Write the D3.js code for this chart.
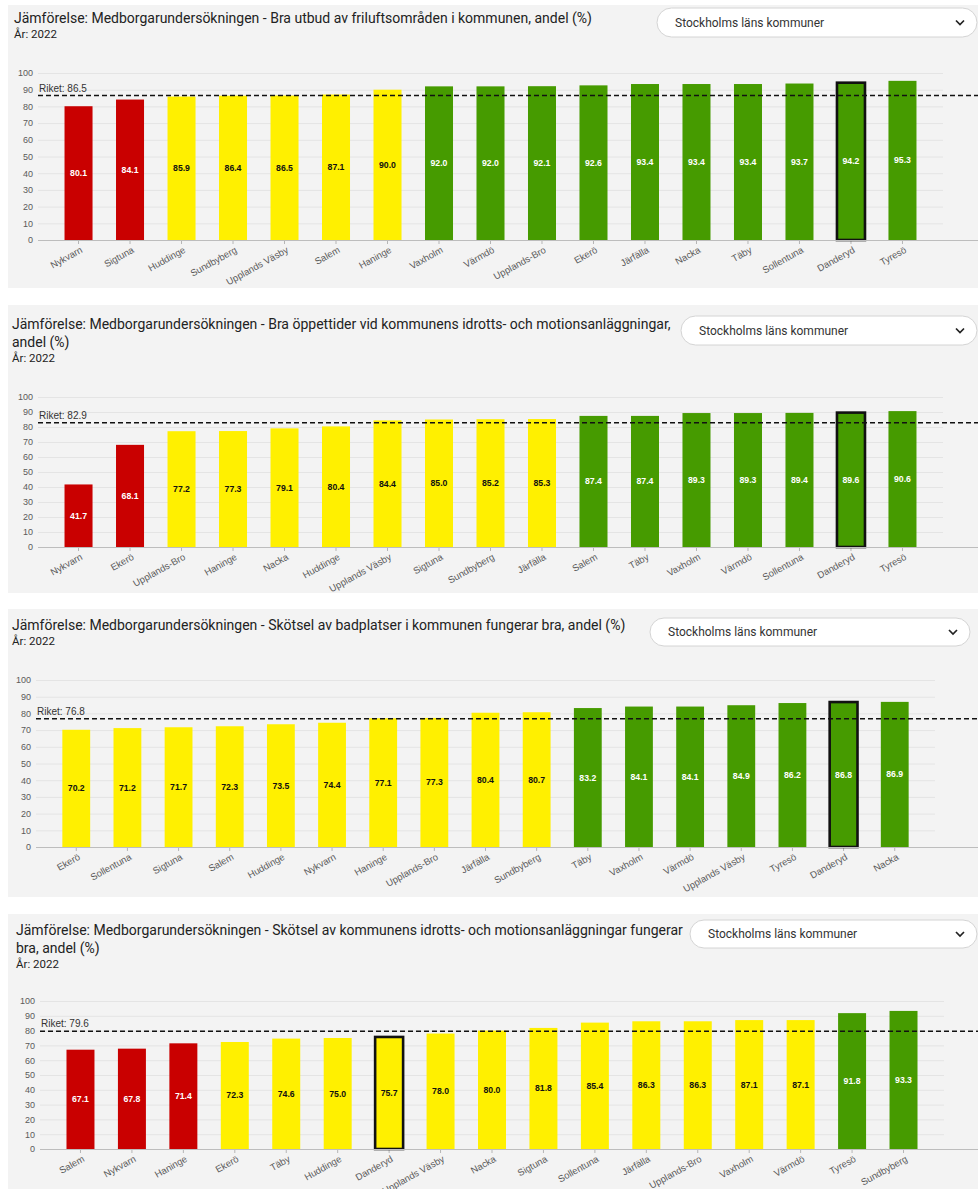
<!DOCTYPE html>
<html>
<head>
<meta charset="utf-8">
<script src="https://cdn.jsdelivr.net/npm/d3@7"></script>
<style>
  body { margin: 0; background: #ffffff; }
  svg { display: block; }
  .title { font-family: Roboto, "Noto Sans", sans-serif; fill: #222; }
  .axis text { font-family: "Liberation Sans", Arial, sans-serif; fill: #5a5a5a; }
</style>
</head>
<body>
<div id="chart"></div>
<script>
// Values (Stockholms läns kommuner, 2022)

// Chart 1 - friluftsområden
const names1 = ["Nykvarn", "Sigtuna", "Huddinge", "Sundbyberg", "Upplands Väsby", "Salem", "Haninge", "Vaxholm", "Värmdö", "Upplands-Bro", "Ekerö", "Järfälla", "Nacka", "Täby", "Sollentuna", "Danderyd", "Tyresö"];
const values1 = [80.1, 84.1, 85.9, 86.4, 86.5, 87.1, 90.0, 92.0, 92.0, 92.1, 92.6, 93.4, 93.4, 93.4, 93.7, 94.2, 95.3];
const status1 = ["r", "r", "y", "y", "y", "y", "y", "g", "g", "g", "g", "g", "g", "g", "g", "g", "g"];
const riket1 = 86.5;
const title1 = ["Jämförelse: Medborgarundersökningen - Bra utbud av friluftsområden i kommunen, andel (%)"];

// Chart 2 - öppettider idrottsanläggningar
const names2 = ["Nykvarn", "Ekerö", "Upplands-Bro", "Haninge", "Nacka", "Huddinge", "Upplands Väsby", "Sigtuna", "Sundbyberg", "Järfälla", "Salem", "Täby", "Vaxholm", "Värmdö", "Sollentuna", "Danderyd", "Tyresö"];
const values2 = [41.7, 68.1, 77.2, 77.3, 79.1, 80.4, 84.4, 85.0, 85.2, 85.3, 87.4, 87.4, 89.3, 89.3, 89.4, 89.6, 90.6];
const status2 = ["r", "r", "y", "y", "y", "y", "y", "y", "y", "y", "g", "g", "g", "g", "g", "g", "g"];
const riket2 = 82.9;
const title2 = ["Jämförelse: Medborgarundersökningen - Bra öppettider vid kommunens idrotts- och motionsanläggningar,", "andel (%)"];

// Chart 3 - badplatser
const names3 = ["Ekerö", "Sollentuna", "Sigtuna", "Salem", "Huddinge", "Nykvarn", "Haninge", "Upplands-Bro", "Järfälla", "Sundbyberg", "Täby", "Vaxholm", "Värmdö", "Upplands Väsby", "Tyresö", "Danderyd", "Nacka"];
const values3 = [70.2, 71.2, 71.7, 72.3, 73.5, 74.4, 77.1, 77.3, 80.4, 80.7, 83.2, 84.1, 84.1, 84.9, 86.2, 86.8, 86.9];
const status3 = ["y", "y", "y", "y", "y", "y", "y", "y", "y", "y", "g", "g", "g", "g", "g", "g", "g"];
const riket3 = 76.8;
const title3 = ["Jämförelse: Medborgarundersökningen - Skötsel av badplatser i kommunen fungerar bra, andel (%)"];

// Chart 4 - skötsel idrottsanläggningar
const names4 = ["Salem", "Nykvarn", "Haninge", "Ekerö", "Täby", "Huddinge", "Danderyd", "Upplands Väsby", "Nacka", "Sigtuna", "Sollentuna", "Järfälla", "Upplands-Bro", "Vaxholm", "Värmdö", "Tyresö", "Sundbyberg"];
const values4 = [67.1, 67.8, 71.4, 72.3, 74.6, 75.0, 75.7, 78.0, 80.0, 81.8, 85.4, 86.3, 86.3, 87.1, 87.1, 91.8, 93.3];
const status4 = ["r", "r", "r", "y", "y", "y", "y", "y", "y", "y", "y", "y", "y", "y", "y", "g", "g"];
const riket4 = 79.6;
const title4 = ["Jämförelse: Medborgarundersökningen - Skötsel av kommunens idrotts- och motionsanläggningar fungerar", "bra, andel (%)"];

const yearLabel = "År: 2022";
const dropdownLabel = "Stockholms läns kommuner";
const highlighted = "Danderyd";
const yTicks = [0, 10, 20, 30, 40, 50, 60, 70, 80, 90, 100];

// Colours for the status of each municipality
const statusColor = { r: "#c90000", y: "#fff000", g: "#469b00" };
const labelColor = { r: "#ffffff", y: "#111111", g: "#ffffff" };

// Page layout of each panel
const panels = [
  { names: names1, values: values1, status: status1, riket: riket1, title: title1,
    top: 5, bottom: 288, titleX: 14, titleY: 23, y0: 240, y100: 73, x0: 38, gridEnd: 943,
    dd: { x: 657, y: 8, r: 977, h: 29 } },
  { names: names2, values: values2, status: status2, riket: riket2, title: title2,
    top: 305, bottom: 593, titleX: 12, titleY: 329, y0: 547, y100: 397, x0: 38, gridEnd: 943,
    dd: { x: 681, y: 316, r: 977, h: 29 } },
  { names: names3, values: values3, status: status3, riket: riket3, title: title3,
    top: 609, bottom: 897, titleX: 12, titleY: 630, y0: 847, y100: 680, x0: 36, gridEnd: 935,
    dd: { x: 650, y: 618, r: 970, h: 28 } },
  { names: names4, values: values4, status: status4, riket: riket4, title: title4,
    top: 914, bottom: 1189, titleX: 16, titleY: 935, y0: 1149, y100: 1001, x0: 40, gridEnd: 944,
    dd: { x: 690, y: 920, r: 977, h: 28 } }
];

const svg = d3.select("#chart")
  .append("svg")
  .attr("width", 978)
  .attr("height", 1189);

panels.forEach(drawPanel);

function drawPanel(p) {
  const g = svg.append("g");

  // Panel background
  g.append("rect")
    .attr("x", 8)
    .attr("y", p.top)
    .attr("width", 978 - 8)
    .attr("height", p.bottom - p.top)
    .attr("fill", "#f3f3f3");

  // Title and year
  p.title.forEach((line, i) => {
    g.append("text")
      .attr("class", "title")
      .attr("x", p.titleX)
      .attr("y", p.titleY + i * 18)
      .style("font-size", "14px")
      .text(line);
  });

  g.append("text")
    .attr("class", "title")
    .attr("x", p.titleX)
    .attr("y", p.titleY + (p.title.length - 1) * 18 + 15)
    .style("font-size", "11.5px")
    .text(yearLabel);

  // Dropdown box
  g.append("rect")
    .attr("x", p.dd.x)
    .attr("y", p.dd.y)
    .attr("width", p.dd.r - p.dd.x)
    .attr("height", p.dd.h)
    .attr("rx", p.dd.h / 2)
    .attr("fill", "#ffffff")
    .attr("stroke", "#d4d4d4");

  g.append("text")
    .attr("class", "title")
    .attr("x", p.dd.x + 18)
    .attr("y", p.dd.y + p.dd.h / 2 + 4)
    .style("font-size", "12px")
    .style("fill", "#333")
    .text(dropdownLabel);

  g.append("path")
    .attr("d", `M${p.dd.r - 21},${p.dd.y + p.dd.h / 2 - 2} l4,4 l4,-4`)
    .attr("fill", "none")
    .attr("stroke", "#222")
    .attr("stroke-width", 1.7);

  // Scales
  const y = d3.scaleLinear()
    .domain([0, 100])
    .range([p.y0, p.y100]);

  const x = d3.scaleBand()
    .domain(p.names)
    .range([p.x0, p.gridEnd])
    .paddingInner(0.456)
    .paddingOuter(0.515);

  // Y axis with gridlines
  const yAxis = g.append("g")
    .attr("class", "axis")
    .attr("transform", `translate(${p.x0},0)`)
    .call(d3.axisLeft(y).tickValues(yTicks).tickSize(-(p.gridEnd - p.x0)).tickPadding(5));

  yAxis.select(".domain").remove();
  yAxis.selectAll(".tick line").attr("stroke", "#e4e4e4");
  yAxis.selectAll(".tick text").style("font-size", "9px");

  // X axis
  const xAxis = g.append("g")
    .attr("class", "axis")
    .attr("transform", `translate(0,${p.y0})`)
    .call(d3.axisBottom(x).tickSize(4).tickSizeOuter(0));

  xAxis.select(".domain").remove();
  xAxis.selectAll(".tick line").attr("stroke", "#b5b5b5");
  xAxis.selectAll(".tick text")
    .attr("x", 0)
    .attr("y", 0)
    .attr("dy", "0.35em")
    .attr("transform", "translate(3,9) rotate(-29)")
    .style("text-anchor", "end")
    .style("font-size", "9.5px");

  // Bars
  const rows = p.names.map((name, i) => ({ name, value: p.values[i], status: p.status[i] }));

  g.selectAll("rect.bar")
    .data(rows)
    .join("rect")
    .attr("class", "bar")
    .attr("x", d => x(d.name))
    .attr("y", d => y(d.value))
    .attr("width", x.bandwidth())
    .attr("height", d => p.y0 - y(d.value))
    .attr("fill", d => statusColor[d.status])
    .attr("stroke", d => d.name === highlighted ? "#111" : "none")
    .attr("stroke-width", 2.6);

  // Value labels inside bars
  g.selectAll("text.value")
    .data(rows)
    .join("text")
    .attr("class", "value")
    .attr("x", d => x(d.name) + x.bandwidth() / 2)
    .attr("y", d => (y(d.value) + p.y0) / 2 + 3)
    .attr("text-anchor", "middle")
    .style("font-family", "'Liberation Sans', Arial, sans-serif")
    .style("font-size", "8.7px")
    .style("font-weight", "bold")
    .style("fill", d => labelColor[d.status])
    .text(d => d.value.toFixed(1));

  // Baseline across the whole panel
  g.append("line")
    .attr("x1", p.x0)
    .attr("x2", 978)
    .attr("y1", p.y0 + 0.5)
    .attr("y2", p.y0 + 0.5)
    .attr("stroke", "#bdbdbd");

  // Riket reference line
  g.append("line")
    .attr("x1", p.x0)
    .attr("x2", 978)
    .attr("y1", y(p.riket))
    .attr("y2", y(p.riket))
    .attr("stroke", "#111")
    .attr("stroke-width", 1.5)
    .attr("stroke-dasharray", "5,3");

  g.append("text")
    .attr("x", p.x0 + 1)
    .attr("y", y(p.riket) - 4)
    .style("font-family", "'Liberation Sans', Arial, sans-serif")
    .style("font-size", "10px")
    .style("fill", "#333")
    .text(`Riket: ${p.riket.toFixed(1)}`);
}
</script>
</body>
</html>
